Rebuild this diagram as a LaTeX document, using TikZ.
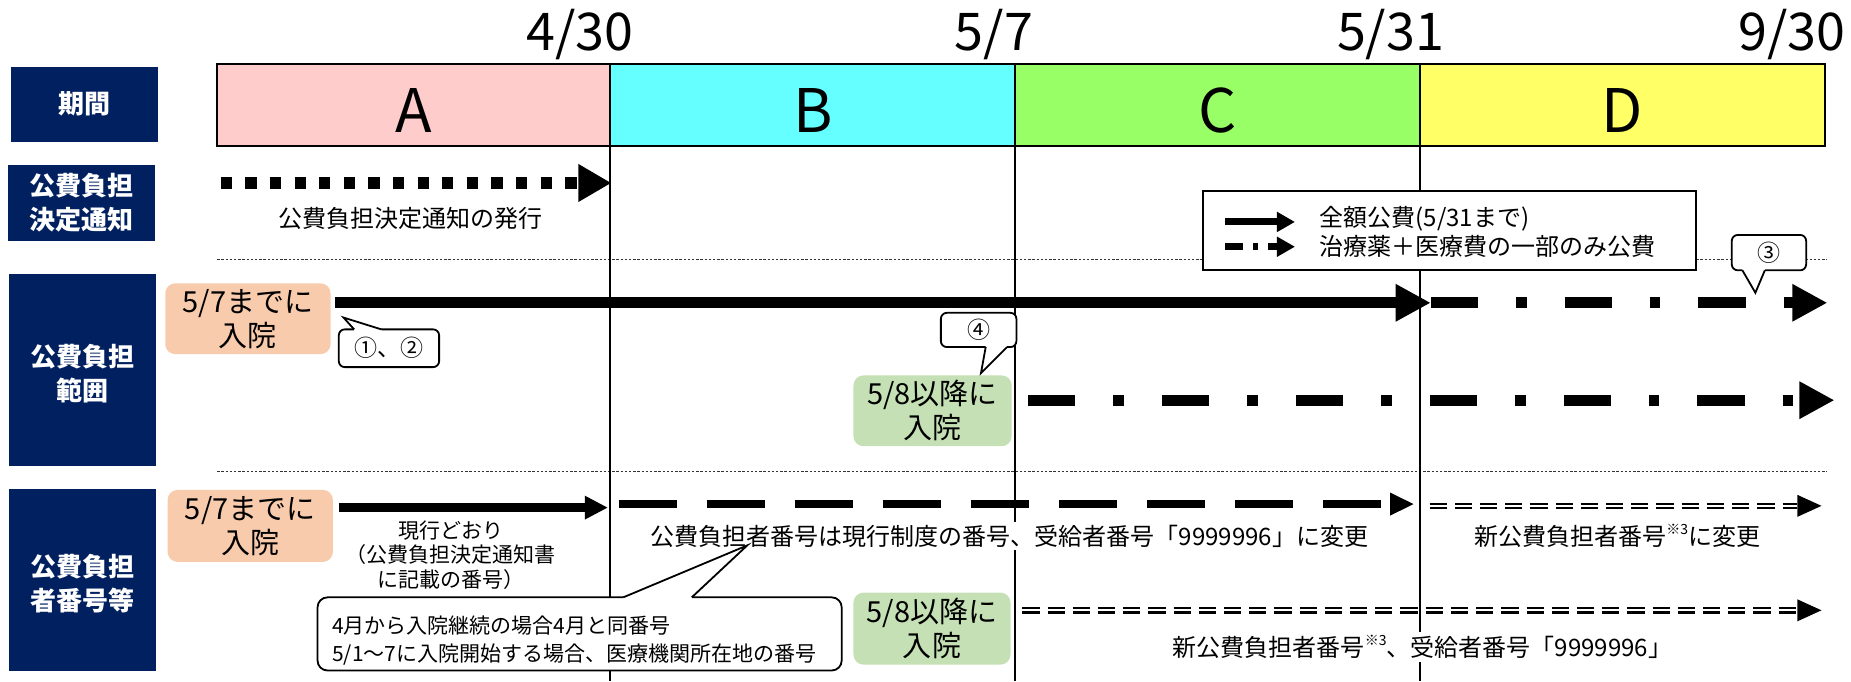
\documentclass[tikz,border=0pt]{standalone}
\usepackage{fontspec}
\setmainfont{Noto Sans CJK JP}
\usetikzlibrary{arrows.meta,fit}
\definecolor{navy}{HTML}{002060}
\definecolor{peach}{HTML}{F8CBAD}
\definecolor{lgreen}{HTML}{C5E0B4}
\definecolor{perA}{HTML}{FFCCCC}
\definecolor{perB}{HTML}{66FFFF}
\definecolor{perC}{HTML}{99FF66}
\definecolor{perD}{HTML}{FFFF66}
\newcommand{\myfs}[2]{\fontsize{#1}{#2}\selectfont}
\newcommand{\supnote}[1]{\raisebox{0.45em}{\myfs{7}{8}#1}}
\tikzset{
  navybox/.style={fill=navy, inner sep=0pt},
  navytxt/.style={text=white, font=\bfseries\myfs{13}{17}, align=center, inner sep=0pt},
  perbox/.style={draw=black, line width=1pt, inner sep=0pt},
  datelbl/.style={font=\myfs{26}{28}, anchor=base, inner sep=0pt},
  letterlbl/.style={font=\myfs{30}{32}, anchor=base, inner sep=0pt},
  txt/.style={font=\myfs{12}{14}, inner sep=1.5pt, align=center},
  whitetxt/.style={txt, fill=white},
  admitbox/.style={rounded corners=5pt, inner sep=0pt},
  admittxt/.style={inner sep=0pt, align=center, font=\myfs{14.5}{17}},
  callbox/.style={draw=black, fill=white, line width=0.9pt, rounded corners=3pt, inner sep=0pt},
  calltxt/.style={inner sep=0pt, font=\myfs{11.5}{13}},
  callptr/.style={draw=black, line width=0.9pt, line join=miter},
  vline/.style={line width=1pt},
  sepline/.style={line width=0.6pt, dash pattern=on 1.2pt off 0.9pt, black!80},
  bigtip/.style={-{Triangle[length=17.5pt,width=17.5pt]}},
  bigsolid/.style={line width=5.6pt, bigtip},
  bigdashdot/.style={line width=5.6pt, dash pattern=on 23.6pt off 19pt on 5.3pt off 19pt, bigtip},
  dotarrow/.style={line width=5.6pt, dash pattern=on 5.6pt off 6.7pt, -{Triangle[length=16.5pt,width=17.7pt]}},
  midsolid/.style={line width=4.3pt, -{Triangle[length=11.5pt,width=11pt]}},
  middash/.style={line width=4pt, dash pattern=on 29pt off 15pt, -{Triangle[length=12pt,width=10.5pt]}},
  dblline/.style={line width=1.1pt, double=white, double distance=1.1pt, dash pattern=on 8.6pt off 4pt},
  legsolid/.style={line width=3.5pt, -{Triangle[length=9pt,width=9.5pt]}},
  legdashdot/.style={line width=3.5pt, dash pattern=on 9pt off 5pt on 2.5pt off 5pt, -{Triangle[length=9pt,width=9.5pt]}},
}
\begin{document}
\begin{tikzpicture}[x=0.59pt, y=-0.59pt]
\useasboundingbox (0,0) rectangle (1568,577);

% left labels
\node[navybox, fit={(9,56.5)(134,120)}] (lb1) {};
\node[navybox, fit={(7,140)(131,204)}] (lb2) {};
\node[navybox, fit={(8,232)(132,395)}] (lb3) {};
\node[navybox, fit={(8,414)(132,568)}] (lb4) {};
\node[navytxt] (lb1t) at (lb1.center) {期間};
\node[navytxt] (lb2t) at (lb2.center) {公費負担\\決定通知};
\node[navytxt] (lb3t) at ([yshift=-2pt]lb3.center) {公費負担\\範囲};
\node[navytxt] (lb4t) at ([yshift=-2pt]lb4.center) {公費負担\\者番号等};

% separators
\draw[sepline] (184,220) -- (1548,220);
\draw[sepline] (184,399.5) -- (1548,399.5);

% period bar
\node[perbox, fill=perA, fit={(184,54)(517,124)}] (pA) {};
\node[perbox, fill=perB, fit={(517,54)(860,124)}] (pB) {};
\node[perbox, fill=perC, fit={(860,54)(1203,124)}] (pC) {};
\node[perbox, fill=perD, fit={(1203,54)(1546,124)}] (pD) {};
\node[letterlbl] (lA) at (350.5,112) {A};
\node[letterlbl] (lB) at (688.5,112) {B};
\node[letterlbl] (lC) at (1031.5,112) {C};
\node[letterlbl] (lD) at (1374.5,112) {D};

% dates
\node[datelbl] (d1) at (491.5,42.4) {4/30};
\node[datelbl] (d2) at (842,42.4) {5/7};
\node[datelbl] (d3) at (1178,42.4) {5/31};
\node[datelbl] (d4) at (1518,42.4) {9/30};

% vertical lines
\coordinate (v1t) at (517,54); \coordinate (v1b) at (517,577);
\coordinate (v2t) at (860,54); \coordinate (v2b) at (860,577);
\coordinate (v3t) at (1203,54); \coordinate (v3b) at (1203,577);
\draw[vline] (v1t) -- (v1b);
\draw[vline] (v2t) -- (v2b);
\draw[vline] (v3t) -- (v3b);

% row 2
\coordinate (r2s) at (187,155); \coordinate (r2e) at (518,155);
\draw[dotarrow] (r2s) -- (r2e);
\node[txt] (t2) at (348,185) {公費負担決定通知の発行};

% legend
\node[draw=black, line width=1pt, fill=white, inner sep=0pt, fit={(1019,162)(1437,229)}] (leg) {};
\coordinate (legA1) at (1038,188); \coordinate (legA2) at (1097,188);
\coordinate (legB1) at (1038,209); \coordinate (legB2) at (1097,209);
\draw[legsolid] (legA1) -- (legA2);
\draw[legdashdot] (legB1) -- (legB2);
\node[txt, anchor=west] (legt1) at (1115,185) {全額公費(5/31まで)};
\node[txt, anchor=west] (legt2) at (1115,209) {治療薬＋医療費の一部のみ公費};

% row 3
\node[admitbox, fill=peach, fit={(140,240)(280,300)}] (adm1) {};
\node[admittxt] (adm1t) at (adm1.center) {5/7までに\\入院};
\coordinate (r3a) at (284,256.5); \coordinate (r3b) at (1212,256.5); \coordinate (r3c) at (1548,256.5);
\draw[bigsolid] (r3a) -- (r3b);
\draw[bigdashdot] (r3b) -- (r3c);
\node[admitbox, fill=lgreen, fit={(723,318)(857,378)}] (adm2) {};
\node[admittxt] (adm2t) at (adm2.center) {5/8以降に\\入院};
\coordinate (r3d) at (871,339); \coordinate (r3e) at (1554,339);
\draw[bigdashdot] (r3d) -- (r3e);

% callout 1,2
\node[callbox, fit={(287,279)(372,311)}] (c12) {};
\node[calltxt] (c12t) at (c12.center) {①、②};
\coordinate (c12tip) at (291,269);
\fill[white] (300,281) -- (300,279) -- (c12tip) -- (323,279) -- (323,281) -- cycle;
\draw[callptr] (300,279) -- (c12tip) -- (323,279);

% callout 4
\node[callbox, fit={(797,265)(861,294)}] (c4) {};
\node[calltxt] (c4t) at (c4.center) {④};
\coordinate (c4tip) at (831,316);
\fill[white] (835,292) -- (835,294) -- (c4tip) -- (853,294) -- (853,292) -- cycle;
\draw[callptr] (835,294) -- (c4tip) -- (853,294);

% callout 3
\node[callbox, fit={(1467,199)(1530,229)}] (c3) {};
\node[calltxt] (c3t) at (c3.center) {③};
\coordinate (c3tip) at (1487,248);
\fill[white] (1476,227) -- (1476,229) -- (c3tip) -- (1495,229) -- (1495,227) -- cycle;
\draw[callptr] (1476,229) -- (c3tip) -- (1495,229);

% row 4
\node[admitbox, fill=peach, fit={(142,415)(282,476)}] (adm3) {};
\node[admittxt] (adm3t) at (adm3.center) {5/7までに\\入院};
\coordinate (r4a) at (287,430); \coordinate (r4b) at (515,430);
\draw[midsolid] (r4a) -- (r4b);
\coordinate (r4c) at (524,427); \coordinate (r4d) at (1198,427);
\draw[middash] (r4c) -- (r4d);
\coordinate (r4e) at (1211,428.5); \coordinate (r4f) at (1522.6,428.5); \coordinate (r4g) at (1543,428.5);
\draw[dblline] (r4e) -- (r4f);
\fill (1522.6,419.2) -- (r4g) -- (1522.6,437.8) -- cycle;

\node[txt, font=\myfs{10.5}{12.2}] (t4a) at (382,470) {現行どおり\\（公費負担決定通知書\\に記載の番号）};
\node[whitetxt] (t4b) at (855,454) {公費負担者番号は現行制度の番号、受給者番号「9999996」に変更};
\node[txt] (t4c) at (1370,454) {新公費負担者番号\supnote{※3}に変更};

\node[admitbox, fill=lgreen, fit={(723,502)(856,563)}] (adm4) {};
\node[admittxt] (adm4t) at (adm4.center) {5/8以降に\\入院};
\coordinate (r4h) at (866,517); \coordinate (r4i) at (1522.6,517); \coordinate (r4j) at (1543,517);
\draw[dblline] (r4h) -- (r4i);
\fill (1522.6,507.7) -- (r4j) -- (1522.6,526.3) -- cycle;
\node[whitetxt] (t4d) at (1205,548) {新公費負担者番号\supnote{※3}、受給者番号「9999996」};

% big callout
\node[callbox, rounded corners=5pt, fit={(269,506)(713,568)}] (cbig) {};
\coordinate (cbigtip) at (633,462);
\fill[white] (528,508) -- (528,506) -- (cbigtip) -- (586,506) -- (586,508) -- cycle;
\draw[callptr] (528,506) -- (cbigtip) -- (586,506);
\node[anchor=west, align=left, font=\myfs{10.5}{14}, inner sep=0pt] (cbigt) at (281,543) {4月から入院継続の場合4月と同番号\\5/1～7に入院開始する場合、医療機関所在地の番号};
\end{tikzpicture}
\end{document}
